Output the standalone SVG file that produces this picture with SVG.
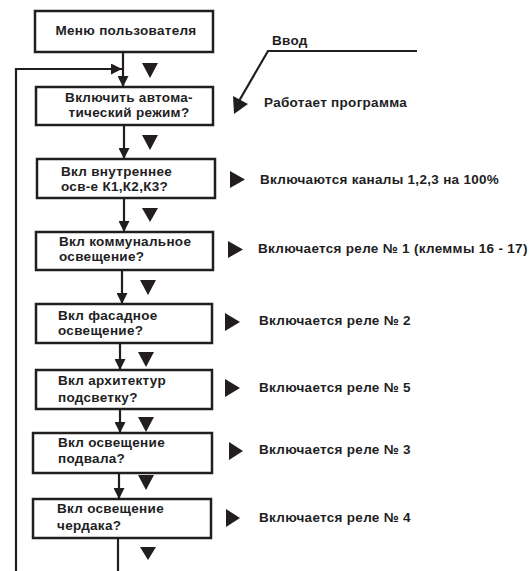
<svg xmlns="http://www.w3.org/2000/svg" width="529" height="571" viewBox="0 0 529 571">
<defs>
<style>
.box{fill:#fff;stroke:#221e1f;stroke-width:2.5}
.ln{fill:none;stroke:#221e1f;stroke-width:2.2}
.t{font-family:"Liberation Sans",Arial,sans-serif;font-weight:bold;font-size:13.5px;letter-spacing:0.3px;fill:#221e1f}
.tri{fill:#221e1f}
</style>
<marker id="ah" markerUnits="userSpaceOnUse" markerWidth="11" markerHeight="11" refX="11" refY="5.5" orient="auto">
<path d="M0,0 L11,5.5 L0,11 z" fill="#221e1f"/>
</marker>
</defs>
<rect width="529" height="571" fill="#fff"/>
<g id="connectors">
<path class="ln" d="M123,52 V87" marker-end="url(#ah)"/>
<path class="ln" d="M16,571 V69 H122" marker-end="url(#ah)"/>
<path class="ln" d="M124,125 V159" marker-end="url(#ah)"/>
<path class="ln" d="M124,198 V232" marker-end="url(#ah)"/>
<path class="ln" d="M122,270 V304" marker-end="url(#ah)"/>
<path class="ln" d="M120,343 V370" marker-end="url(#ah)"/>
<path class="ln" d="M120,409 V433" marker-end="url(#ah)"/>
<path class="ln" d="M119,473 V499" marker-end="url(#ah)"/>
<path class="ln" d="M118,538 V571"/>
<path class="ln" d="M417,51 H268 L239,101"/>
<polygon class="tri" points="233,96 248,104 234,114"/>
</g>
<g id="markers">
<polygon class="tri" points="142,63 158,63 150,78"/>
<polygon class="tri" points="142,135 158,135 150,150"/>
<polygon class="tri" points="142,208 158,208 150,222"/>
<polygon class="tri" points="140,280 156,280 148,295"/>
<polygon class="tri" points="138,352 154,352 146,367"/>
<polygon class="tri" points="138,417 154,417 146,432"/>
<polygon class="tri" points="138,475 154,475 146,490"/>
<polygon class="tri" points="140,547 156,547 148,560"/>
<polygon class="tri" points="230,171 245,179.5 230,188"/>
<polygon class="tri" points="228,241 243,249.5 228,258"/>
<polygon class="tri" points="225,313 240,322 225,331"/>
<polygon class="tri" points="225,379 240,388 225,397"/>
<polygon class="tri" points="229,442 243,451 229,460"/>
<polygon class="tri" points="226,509 240,518 226,527"/>
</g>
<g id="n1"><rect class="box" x="35" y="11" width="178" height="41"/><text class="t" x="126" y="35" text-anchor="middle">Меню пользователя</text></g>
<g id="n2"><rect class="box" x="36" y="87" width="177" height="38"/><text class="t" x="129" y="102" text-anchor="middle">Включить автома-</text><text class="t" x="129" y="117" text-anchor="middle">тический режим?</text></g>
<g id="n3"><rect class="box" x="37" y="159" width="178" height="39"/><text class="t" x="61" y="176">Вкл внутреннее</text><text class="t" x="61" y="191">осв-е К1,К2,К3?</text></g>
<g id="n4"><rect class="box" x="36" y="232" width="177" height="38"/><text class="t" x="59" y="246">Вкл коммунальное</text><text class="t" x="59" y="261">освещение?</text></g>
<g id="n5"><rect class="box" x="36" y="304" width="176" height="39"/><text class="t" x="58" y="320">Вкл фасадное</text><text class="t" x="58" y="335">освещение?</text></g>
<g id="n6"><rect class="box" x="36" y="370" width="176" height="39"/><text class="t" x="58" y="385">Вкл архитектур</text><text class="t" x="58" y="402">подсветку?</text></g>
<g id="n7"><rect class="box" x="33" y="433" width="179" height="40"/><text class="t" x="58" y="447">Вкл освещение</text><text class="t" x="58" y="463">подвала?</text></g>
<g id="n8"><rect class="box" x="33" y="499" width="178" height="39"/><text class="t" x="57" y="513">Вкл освещение</text><text class="t" x="57" y="530">чердака?</text></g>
<g id="labels">
<text class="t" x="272" y="45">Ввод</text>
<text class="t" x="264" y="107">Работает программа</text>
<text class="t" x="260" y="184">Включаются каналы 1,2,3 на 100%</text>
<text class="t" x="258" y="253">Включается реле № 1 (клеммы 16 - 17)</text>
<text class="t" x="259" y="325">Включается реле № 2</text>
<text class="t" x="259" y="392">Включается реле № 5</text>
<text class="t" x="259" y="454">Включается реле № 3</text>
<text class="t" x="259" y="522">Включается реле № 4</text>
</g>
</svg>
